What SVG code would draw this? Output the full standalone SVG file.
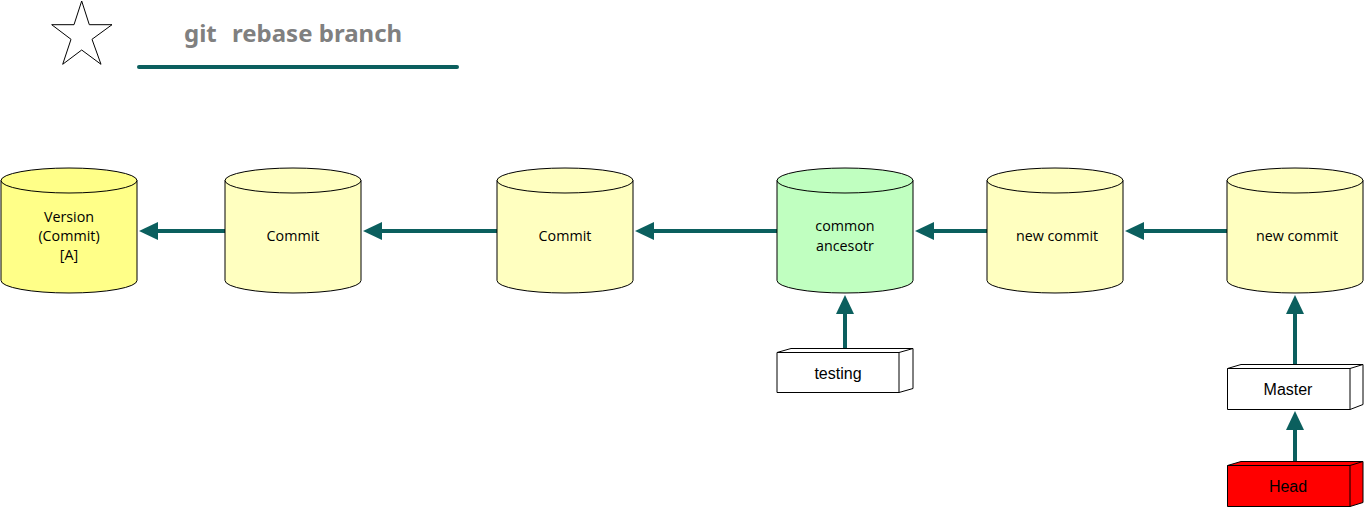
<svg xmlns="http://www.w3.org/2000/svg" width="1364" height="507" viewBox="0 0 1364 507">
<style>
.cyl{stroke:#000;stroke-width:1}
.lbl{font-family:"Open Sans","DejaVu Sans",sans-serif;font-size:14.3px;fill:#000;text-anchor:middle}
.blbl{font-family:"Liberation Sans",Arial,sans-serif;font-size:16px;fill:#000;text-anchor:middle}
.box{stroke:#000;stroke-width:1}
.conn{stroke:#0b5f5e;stroke-width:4;fill:none}
.title{font-family:"Noto Sans","Open Sans",sans-serif;font-weight:bold;font-size:24px;fill:#808080}
</style>
<defs>
<marker id="ah" markerUnits="userSpaceOnUse" markerWidth="20" markerHeight="18" refX="0" refY="9" orient="auto" overflow="visible">
<path d="M0,0 L19,9 L0,18 Z" fill="#0b5f5e"/>
</marker>
</defs>

<g id="star">
<polygon points="81.7,1 89.3,24.7 112,24.7 92,39.3 101,64.3 81.7,50 62.7,64.3 71,39.3 51.7,24.7 74,24.7" fill="#fff" stroke="#000" stroke-width="1"/>
</g>
<g id="title">
<text class="title" x="184" y="42">git</text>
<text class="title" x="232" y="42">rebase branch</text>
<line x1="139" y1="67" x2="457" y2="67" stroke="#0b5f5e" stroke-width="4" stroke-linecap="round"/>
</g>

<g id="connectors">
<line class="conn" x1="225" y1="231" x2="158" y2="231" marker-end="url(#ah)"/>
<line class="conn" x1="497" y1="231" x2="382" y2="231" marker-end="url(#ah)"/>
<line class="conn" x1="777" y1="231" x2="654" y2="231" marker-end="url(#ah)"/>
<line class="conn" x1="987" y1="231" x2="934" y2="231" marker-end="url(#ah)"/>
<line class="conn" x1="1227" y1="231" x2="1144" y2="231" marker-end="url(#ah)"/>
<line class="conn" x1="845" y1="349" x2="845" y2="314" marker-end="url(#ah)"/>
<line class="conn" x1="1295" y1="365" x2="1295" y2="314" marker-end="url(#ah)"/>
<line class="conn" x1="1295" y1="462" x2="1295" y2="430" marker-end="url(#ah)"/>
</g>

<g id="n-version">
<path class="cyl" fill="#ffff88" d="M1,180.5 A68,12.5 0 0 1 137,180.5 V280.5 A68,12.5 0 0 1 1,280.5 Z"/>
<path class="cyl" fill="none" d="M1,180.5 A68,12.5 0 0 0 137,180.5"/>
<text class="lbl" x="69" y="222">Version</text>
<text class="lbl" x="69" y="241">(Commit)</text>
<text class="lbl" x="69" y="260">[A]</text>
</g>
<g id="n-commit1">
<path class="cyl" fill="#ffffc0" d="M225,180.5 A68,12.5 0 0 1 361,180.5 V280.5 A68,12.5 0 0 1 225,280.5 Z"/>
<path class="cyl" fill="none" d="M225,180.5 A68,12.5 0 0 0 361,180.5"/>
<text class="lbl" x="293" y="241">Commit</text>
</g>
<g id="n-commit2">
<path class="cyl" fill="#ffffc0" d="M497,180.5 A68,12.5 0 0 1 633,180.5 V280.5 A68,12.5 0 0 1 497,280.5 Z"/>
<path class="cyl" fill="none" d="M497,180.5 A68,12.5 0 0 0 633,180.5"/>
<text class="lbl" x="565" y="241">Commit</text>
</g>
<g id="n-ancestor">
<path class="cyl" fill="#c0ffc0" d="M777,180.5 A68,12.5 0 0 1 913,180.5 V280.5 A68,12.5 0 0 1 777,280.5 Z"/>
<path class="cyl" fill="none" d="M777,180.5 A68,12.5 0 0 0 913,180.5"/>
<text class="lbl" x="845" y="231">common</text>
<text class="lbl" x="845" y="251">ancesotr</text>
</g>
<g id="n-new1">
<path class="cyl" fill="#ffffc0" d="M987,180.5 A68,12.5 0 0 1 1123,180.5 V280.5 A68,12.5 0 0 1 987,280.5 Z"/>
<path class="cyl" fill="none" d="M987,180.5 A68,12.5 0 0 0 1123,180.5"/>
<text class="lbl" x="1057" y="241">new commit</text>
</g>
<g id="n-new2">
<path class="cyl" fill="#ffffc0" d="M1227,180.5 A68,12.5 0 0 1 1363,180.5 V280.5 A68,12.5 0 0 1 1227,280.5 Z"/>
<path class="cyl" fill="none" d="M1227,180.5 A68,12.5 0 0 0 1363,180.5"/>
<text class="lbl" x="1297" y="241">new commit</text>
</g>

<g id="n-testing">
<path class="box" fill="#fff" d="M777,352.5 L791,348.5 L913,348.5 L913,388.5 L899,392.5 L777,392.5 Z"/>
<path class="box" fill="none" d="M777,352.5 L899,352.5 L913,348.5 M899,352.5 L899,392.5"/>
<text class="blbl" x="838" y="379">testing</text>
</g>
<g id="n-master">
<path class="box" fill="#fff" d="M1227.5,368.5 L1241,364.5 L1363,364.5 L1363,404.5 L1350,409.5 L1227.5,409.5 Z"/>
<path class="box" fill="none" d="M1227.5,368.5 L1350,368.5 L1363,364.5 M1350,368.5 L1350,409.5"/>
<text class="blbl" x="1288" y="395">Master</text>
</g>
<g id="n-head">
<path class="box" fill="#ff0000" d="M1227.5,465.5 L1241,461.5 L1363,461.5 L1363,502.5 L1350,506.5 L1227.5,506.5 Z"/>
<path class="box" fill="none" d="M1227.5,465.5 L1350,465.5 L1363,461.5 M1350,465.5 L1350,506.5"/>
<text class="blbl" x="1288" y="492">Head</text>
</g>
</svg>
